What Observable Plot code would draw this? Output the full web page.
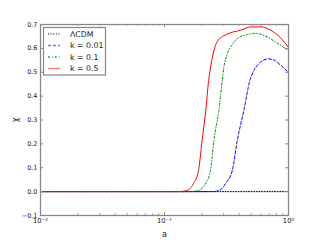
<!DOCTYPE html>
<html>
<head>
<meta charset="utf-8">
<script src="https://cdn.jsdelivr.net/npm/d3@7"></script>
<script src="https://cdn.jsdelivr.net/npm/@observablehq/plot@0.6"></script>
<style>
  html, body { margin: 0; padding: 0; background: #fff; }
</style>
</head>
<body>
<div id="chart"></div>
<script>
// ---- data ----
const seriesNames = ["ΛCDM", "k = 0.01", "k = 0.1", "k = 0.5"];

const lcdm_a   = [0.01, 1.0];
const lcdm_chi = [0, 0];

const k001_a   = [0.01, 0.24, 0.266, 0.29, 0.310, 0.352, 0.386, 0.436, 0.488, 0.525, 0.575, 0.625, 0.693, 0.785, 0.861, 1.0];
const k001_chi = [0, 0, 0.003, 0.012, 0.033, 0.088, 0.214, 0.339, 0.465, 0.507, 0.535, 0.550, 0.556, 0.548, 0.530, 0.500];

const k01_a    = [0.01, 0.16, 0.185, 0.214, 0.235, 0.250, 0.274, 0.292, 0.301, 0.321, 0.347, 0.385, 0.464, 0.542, 0.65, 0.785, 1.0];
const k01_chi  = [0, 0, 0.004, 0.033, 0.088, 0.214, 0.339, 0.465, 0.520, 0.577, 0.611, 0.640, 0.658, 0.663, 0.652, 0.627, 0.590];

const k05_a    = [0.01, 0.13, 0.15, 0.171, 0.188, 0.201, 0.215, 0.227, 0.232, 0.250, 0.269, 0.321, 0.410, 0.50, 0.60, 0.72, 0.86, 1.0];
const k05_chi  = [0, 0, 0.004, 0.033, 0.088, 0.214, 0.339, 0.465, 0.500, 0.590, 0.632, 0.660, 0.676, 0.690, 0.690, 0.676, 0.645, 0.604];

const xMajor = [0.01, 0.1, 1];
const xMinor = [0.02,0.03,0.04,0.05,0.06,0.07,0.08,0.09,0.2,0.3,0.4,0.5,0.6,0.7,0.8,0.9];
const yTicks = [-0.1, 0, 0.1, 0.2, 0.3, 0.4, 0.5, 0.6, 0.7];
const xTickLabels = {0.01: "10⁻²", 0.1: "10⁻¹", 1: "10⁰"};

// ---- styles ----
const styles = [
  {stroke: "#000000", legend: "#555", dash: "1,1.6", width: 1},
  {stroke: "#0000ff", legend: "#7777ff", dash: "3,2", width: 1},
  {stroke: "#008000", legend: "#3a9a3a", dash: "2,2,0.7,2", width: 1},
  {stroke: "#ff0000", legend: "#ff7777", dash: null, width: 1}
];

const toRows = (a, c) => a.map((v, i) => ({a: v, chi: c[i]}));
const series = [toRows(lcdm_a, lcdm_chi), toRows(k001_a, k001_chi), toRows(k01_a, k01_chi), toRows(k05_a, k05_chi)];

const W = 320, H = 240;
const mL = 40, mR = 32, mT = 24, mB = 25;
const fH = H - mT - mB, fW = W - mL - mR;
const axisColor = "#888";
const textColor = "#222";

function legend(index, scales, values, dims) {
  const g = d3.create("svg:g");
  const x0 = dims.marginLeft + 3.5, y0 = dims.marginTop + 3.5;
  g.append("rect")
    .attr("x", x0).attr("y", y0).attr("width", 62).attr("height", 47.5)
    .attr("fill", "#fff").attr("stroke", axisColor).attr("stroke-width", 1.2);
  seriesNames.forEach((name, i) => {
    const yy = y0 + 6.5 + i * 11.5;
    const s = styles[i];
    g.append("line")
      .attr("x1", x0 + 4.5).attr("x2", x0 + 16.5).attr("y1", yy).attr("y2", yy)
      .attr("stroke", s.legend).attr("stroke-width", 1.4)
      .attr("stroke-dasharray", s.dash);
    g.append("text")
      .attr("x", x0 + 26.5).attr("y", yy).attr("dy", "0.35em")
      .attr("text-anchor", "start")
      .attr("fill", textColor).attr("font-size", "7.8px")
      .attr("font-family", "DejaVu Sans")
      .text(name);
  });
  return g.node();
}

const chart = Plot.plot({
  width: W, height: H,
  marginLeft: mL, marginRight: mR, marginTop: mT, marginBottom: mB,
  style: {fontFamily: "DejaVu Sans", fontSize: "6.5px", color: textColor, background: "#fff"},
  x: {type: "log", domain: [0.01, 1]},
  y: {domain: [-0.1, 0.7]},
  marks: [
    ...series.map((rows, i) => Plot.line(rows, {
      x: "a", y: "chi", curve: "monotone-x",
      stroke: styles[i].stroke, strokeWidth: styles[i].width,
      strokeDasharray: styles[i].dash
    })),
    Plot.frame({stroke: axisColor, strokeWidth: 1.3}),
    // inward ticks, bottom and top
    Plot.tickX(xMajor, {x: d => d, insetTop: fH - 3, stroke: axisColor}),
    Plot.tickX(xMajor, {x: d => d, insetBottom: fH - 3, stroke: axisColor}),
    Plot.tickX(xMinor, {x: d => d, insetTop: fH - 1.5, stroke: axisColor}),
    Plot.tickX(xMinor, {x: d => d, insetBottom: fH - 1.5, stroke: axisColor}),
    // inward ticks, left and right
    Plot.tickY(yTicks, {y: d => d, insetRight: fW - 3, stroke: axisColor}),
    Plot.tickY(yTicks, {y: d => d, insetLeft: fW - 3, stroke: axisColor}),
    Plot.axisX({
      ticks: xMajor, tickSize: 0, tickPadding: 3,
      tickFormat: d => xTickLabels[d],
      label: null, fontSize: 6.8
    }),
    Plot.axisX({
      ticks: [], tickSize: 0,
      label: "a", labelAnchor: "center", labelOffset: 21, labelArrow: "none",
      fontSize: 8
    }),
    Plot.axisY({
      ticks: yTicks, tickSize: 0, tickPadding: 3,
      tickFormat: d => (d < 0 ? "−" + Math.abs(d).toFixed(1) : d.toFixed(1)),
      label: null, fontSize: 6.5
    }),
    Plot.axisY({
      ticks: [], tickSize: 0,
      label: "χ", labelAnchor: "center", labelOffset: 28, labelArrow: "none",
      fontSize: 8
    }),
    legend
  ]
});

document.getElementById("chart").appendChild(chart);
</script>
</body>
</html>
